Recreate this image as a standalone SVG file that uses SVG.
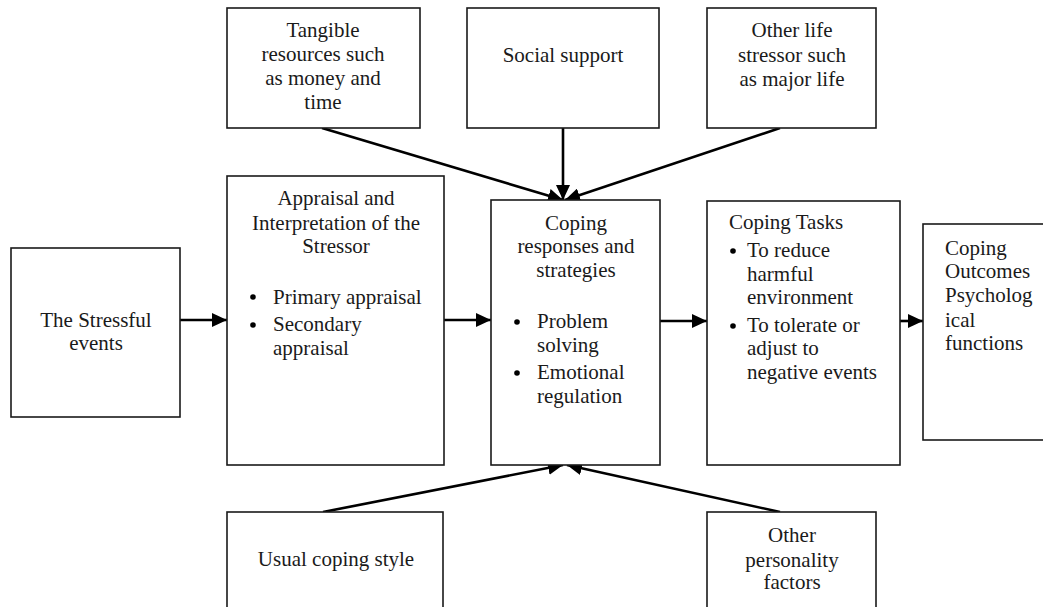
<svg xmlns="http://www.w3.org/2000/svg" width="1043" height="607" viewBox="0 0 1043 607">
<style>
.box{fill:#fff;stroke:#1a1a1a;stroke-width:1.6}
.t{font-family:"Liberation Serif","Times New Roman",serif;font-size:21px;fill:#1a1a1a}
.c{text-anchor:middle}
.ln{stroke:#000;stroke-width:2.6;fill:none;marker-end:url(#ah)}
.dot{fill:#000}
</style>
<defs>
<marker id="ah" markerUnits="userSpaceOnUse" markerWidth="16" markerHeight="14" viewBox="0 0 16 14" refX="15" refY="7" orient="auto">
<path d="M0,0 L15,7 L0,14 Z" fill="#000"/>
</marker>
</defs>
<rect width="1043" height="607" fill="#fff"/>
<g id="connectors">
<line class="ln" x1="180" y1="320" x2="227" y2="320"/>
<line class="ln" x1="444" y1="320" x2="491" y2="320"/>
<line class="ln" x1="660" y1="321" x2="707" y2="321"/>
<line class="ln" x1="900" y1="321" x2="923" y2="321"/>
<line class="ln" x1="322" y1="128" x2="563" y2="200"/>
<line class="ln" x1="563" y1="128" x2="563" y2="200"/>
<line class="ln" x1="780" y1="128" x2="565" y2="200"/>
<line class="ln" x1="323" y1="512" x2="563" y2="465"/>
<line class="ln" x1="780" y1="512" x2="567" y2="465"/>
</g>
<g id="tangible">
<rect class="box" x="227" y="8" width="193" height="120"/>
<text class="t c" x="323" y="37">Tangible</text>
<text class="t c" x="323" y="61">resources such</text>
<text class="t c" x="323" y="85">as money and</text>
<text class="t c" x="323" y="109">time</text>
</g>
<g id="social">
<rect class="box" x="467" y="8" width="192" height="120"/>
<text class="t c" x="563" y="62">Social support</text>
</g>
<g id="otherlife">
<rect class="box" x="707" y="8" width="169" height="120"/>
<text class="t c" x="792" y="37">Other life</text>
<text class="t c" x="792" y="62">stressor such</text>
<text class="t c" x="792" y="86">as major life</text>
</g>
<g id="stressful">
<rect class="box" x="11" y="248" width="169" height="169"/>
<text class="t c" x="96" y="327">The Stressful</text>
<text class="t c" x="96" y="350">events</text>
</g>
<g id="appraisal">
<rect class="box" x="227" y="176" width="217" height="289"/>
<text class="t c" x="336" y="205">Appraisal and</text>
<text class="t c" x="336" y="230">Interpretation of the</text>
<text class="t c" x="336" y="253">Stressor</text>
<circle class="dot" cx="253" cy="297" r="2.8"/>
<text class="t" x="273" y="304">Primary appraisal</text>
<circle class="dot" cx="253" cy="325" r="2.8"/>
<text class="t" x="273" y="331">Secondary</text>
<text class="t" x="273" y="355">appraisal</text>
</g>
<g id="coping">
<rect class="box" x="491" y="200" width="169" height="265"/>
<text class="t c" x="576" y="230">Coping</text>
<text class="t c" x="576" y="253">responses and</text>
<text class="t c" x="576" y="277">strategies</text>
<circle class="dot" cx="517" cy="322" r="2.8"/>
<text class="t" x="537" y="328">Problem</text>
<text class="t" x="537" y="352">solving</text>
<circle class="dot" cx="517" cy="373" r="2.8"/>
<text class="t" x="537" y="379">Emotional</text>
<text class="t" x="537" y="403">regulation</text>
</g>
<g id="tasks">
<rect class="box" x="707" y="201" width="193" height="264"/>
<text class="t" x="729" y="229">Coping Tasks</text>
<circle class="dot" cx="733" cy="251" r="2.8"/>
<text class="t" x="747" y="257">To reduce</text>
<text class="t" x="747" y="281">harmful</text>
<text class="t" x="747" y="304">environment</text>
<circle class="dot" cx="733" cy="326" r="2.8"/>
<text class="t" x="747" y="332">To tolerate or</text>
<text class="t" x="747" y="355">adjust to</text>
<text class="t" x="747" y="379">negative events</text>
</g>
<g id="outcomes">
<rect class="box" x="923" y="224" width="140" height="216"/>
<text class="t" x="945" y="255">Coping</text>
<text class="t" x="945" y="278">Outcomes</text>
<text class="t" x="945" y="302">Psycholog</text>
<text class="t" x="945" y="327">ical</text>
<text class="t" x="945" y="350">functions</text>
</g>
<g id="usual">
<rect class="box" x="227" y="512" width="216" height="110"/>
<text class="t c" x="336" y="566">Usual coping style</text>
</g>
<g id="personality">
<rect class="box" x="707" y="512" width="169" height="110"/>
<text class="t c" x="792" y="542">Other</text>
<text class="t c" x="792" y="567">personality</text>
<text class="t c" x="792" y="589">factors</text>
</g>
</svg>
